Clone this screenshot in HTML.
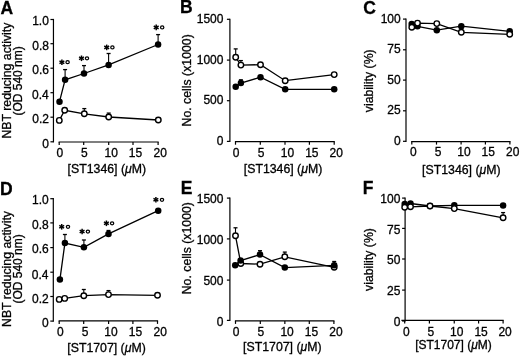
<!DOCTYPE html>
<html><head><meta charset="utf-8"><style>
html,body{margin:0;padding:0;background:#fff;}
body{width:520px;height:356px;overflow:hidden;}
svg{display:block;font-family:"Liberation Sans", sans-serif;filter:blur(0.3px);}
text{fill:#000;stroke:#000;stroke-width:0.3px;}
</style></head><body>
<svg width="520" height="356" viewBox="0 0 520 356">
<rect width="520" height="356" fill="#fff"/>
<text x="0.56" y="13.53" font-size="17.5" font-weight="bold">A</text>
<text x="180.12" y="13.43" font-size="17.5" font-weight="bold">B</text>
<text x="363.20" y="13.61" font-size="17.5" font-weight="bold">C</text>
<text x="-0.08" y="194.53" font-size="17.5" font-weight="bold">D</text>
<text x="180.72" y="194.23" font-size="17.5" font-weight="bold">E</text>
<text x="362.72" y="194.23" font-size="17.5" font-weight="bold">F</text>
<line x1="53.45" y1="18.90" x2="53.45" y2="142.40" stroke="#000" stroke-width="1.2" stroke-linecap="butt"/>
<line x1="50.45" y1="141.80" x2="53.45" y2="141.80" stroke="#000" stroke-width="1.2" stroke-linecap="butt"/>
<text x="42.19" y="147.83" font-size="12.0">0</text>
<line x1="50.45" y1="117.20" x2="53.45" y2="117.20" stroke="#000" stroke-width="1.2" stroke-linecap="butt"/>
<text x="32.32" y="123.33" font-size="12.0">0.2</text>
<line x1="50.45" y1="92.70" x2="53.45" y2="92.70" stroke="#000" stroke-width="1.2" stroke-linecap="butt"/>
<text x="32.05" y="99.23" font-size="12.0">0.4</text>
<line x1="50.45" y1="68.20" x2="53.45" y2="68.20" stroke="#000" stroke-width="1.2" stroke-linecap="butt"/>
<text x="32.23" y="74.33" font-size="12.0">0.6</text>
<line x1="50.45" y1="43.70" x2="53.45" y2="43.70" stroke="#000" stroke-width="1.2" stroke-linecap="butt"/>
<text x="32.23" y="49.83" font-size="12.0">0.8</text>
<line x1="50.45" y1="19.50" x2="53.45" y2="19.50" stroke="#000" stroke-width="1.2" stroke-linecap="butt"/>
<text x="32.17" y="25.02" font-size="12.0">1.0</text>
<line x1="58.60" y1="142.00" x2="158.70" y2="142.00" stroke="#000" stroke-width="1.2" stroke-linecap="butt"/>
<line x1="59.20" y1="142.00" x2="59.20" y2="145.00" stroke="#000" stroke-width="1.2" stroke-linecap="butt"/>
<text x="56.61" y="156.62" font-size="12.0">0</text>
<line x1="83.70" y1="142.00" x2="83.70" y2="145.00" stroke="#000" stroke-width="1.2" stroke-linecap="butt"/>
<text x="81.12" y="156.56" font-size="12.0">5</text>
<line x1="108.70" y1="142.00" x2="108.70" y2="145.00" stroke="#000" stroke-width="1.2" stroke-linecap="butt"/>
<text x="104.56" y="156.62" font-size="12.0">10</text>
<line x1="133.00" y1="142.00" x2="133.00" y2="145.00" stroke="#000" stroke-width="1.2" stroke-linecap="butt"/>
<text x="128.78" y="156.56" font-size="12.0">15</text>
<line x1="158.10" y1="142.00" x2="158.10" y2="145.00" stroke="#000" stroke-width="1.2" stroke-linecap="butt"/>
<text x="153.46" y="156.62" font-size="12.0">20</text>
<text x="67.61" y="172.53" font-size="12.3">[ST1346] (<tspan font-style="italic">μ</tspan>M)</text>
<text transform="translate(11.40,80.55) rotate(-90)" x="0" y="0" font-size="12.3" text-anchor="middle">NBT reducing activity</text>
<text transform="translate(22.20,80.90) rotate(-90)" x="0" y="0" font-size="12.0" text-anchor="middle">(OD 540 nm)</text>
<polyline points="59.30,120.40 64.70,110.30 84.30,113.80 108.70,117.00 158.30,120.00" fill="none" stroke="#000" stroke-width="1.3"/>
<line x1="84.30" y1="113.80" x2="84.30" y2="108.60" stroke="#000" stroke-width="1.1" stroke-linecap="butt"/>
<line x1="82.30" y1="108.60" x2="86.30" y2="108.60" stroke="#000" stroke-width="1.3" stroke-linecap="butt"/>
<line x1="108.70" y1="117.00" x2="108.70" y2="113.10" stroke="#000" stroke-width="1.1" stroke-linecap="butt"/>
<line x1="106.70" y1="113.10" x2="110.70" y2="113.10" stroke="#000" stroke-width="1.3" stroke-linecap="butt"/>
<circle cx="59.30" cy="120.40" r="2.75" fill="#fff" stroke="#000" stroke-width="1.4"/>
<circle cx="64.70" cy="110.30" r="2.75" fill="#fff" stroke="#000" stroke-width="1.4"/>
<circle cx="84.30" cy="113.80" r="2.75" fill="#fff" stroke="#000" stroke-width="1.4"/>
<circle cx="108.70" cy="117.00" r="2.75" fill="#fff" stroke="#000" stroke-width="1.4"/>
<circle cx="158.30" cy="120.00" r="2.75" fill="#fff" stroke="#000" stroke-width="1.4"/>
<polyline points="59.50,101.70 65.10,79.80 84.00,73.50 108.60,64.90 158.10,44.50" fill="none" stroke="#000" stroke-width="1.3"/>
<line x1="65.10" y1="79.80" x2="65.10" y2="69.60" stroke="#000" stroke-width="1.1" stroke-linecap="butt"/>
<line x1="63.10" y1="69.60" x2="67.10" y2="69.60" stroke="#000" stroke-width="1.3" stroke-linecap="butt"/>
<line x1="84.00" y1="73.50" x2="84.00" y2="65.60" stroke="#000" stroke-width="1.1" stroke-linecap="butt"/>
<line x1="82.00" y1="65.60" x2="86.00" y2="65.60" stroke="#000" stroke-width="1.3" stroke-linecap="butt"/>
<line x1="108.60" y1="64.90" x2="108.60" y2="53.50" stroke="#000" stroke-width="1.1" stroke-linecap="butt"/>
<line x1="106.60" y1="53.50" x2="110.60" y2="53.50" stroke="#000" stroke-width="1.3" stroke-linecap="butt"/>
<line x1="158.10" y1="44.50" x2="158.10" y2="34.60" stroke="#000" stroke-width="1.1" stroke-linecap="butt"/>
<line x1="156.10" y1="34.60" x2="160.10" y2="34.60" stroke="#000" stroke-width="1.3" stroke-linecap="butt"/>
<circle cx="59.50" cy="101.70" r="3.25" fill="#000"/>
<circle cx="65.10" cy="79.80" r="3.25" fill="#000"/>
<circle cx="84.00" cy="73.50" r="3.25" fill="#000"/>
<circle cx="108.60" cy="64.90" r="3.25" fill="#000"/>
<circle cx="158.10" cy="44.50" r="3.25" fill="#000"/>
<line x1="61.90" y1="59.40" x2="61.90" y2="65.00" stroke="#000" stroke-width="1.5" stroke-linecap="butt"/>
<line x1="59.48" y1="60.80" x2="64.32" y2="63.60" stroke="#000" stroke-width="1.5" stroke-linecap="butt"/>
<line x1="59.48" y1="63.60" x2="64.32" y2="60.80" stroke="#000" stroke-width="1.5" stroke-linecap="butt"/>
<ellipse cx="67.60" cy="62.20" rx="1.65" ry="1.5" fill="none" stroke="#000" stroke-width="1.25"/>
<line x1="81.50" y1="55.50" x2="81.50" y2="61.10" stroke="#000" stroke-width="1.5" stroke-linecap="butt"/>
<line x1="79.08" y1="56.90" x2="83.92" y2="59.70" stroke="#000" stroke-width="1.5" stroke-linecap="butt"/>
<line x1="79.08" y1="59.70" x2="83.92" y2="56.90" stroke="#000" stroke-width="1.5" stroke-linecap="butt"/>
<ellipse cx="87.00" cy="58.30" rx="1.65" ry="1.5" fill="none" stroke="#000" stroke-width="1.25"/>
<line x1="106.70" y1="44.60" x2="106.70" y2="50.20" stroke="#000" stroke-width="1.5" stroke-linecap="butt"/>
<line x1="104.28" y1="46.00" x2="109.12" y2="48.80" stroke="#000" stroke-width="1.5" stroke-linecap="butt"/>
<line x1="104.28" y1="48.80" x2="109.12" y2="46.00" stroke="#000" stroke-width="1.5" stroke-linecap="butt"/>
<ellipse cx="112.40" cy="47.40" rx="1.65" ry="1.5" fill="none" stroke="#000" stroke-width="1.25"/>
<line x1="156.20" y1="24.60" x2="156.20" y2="30.20" stroke="#000" stroke-width="1.5" stroke-linecap="butt"/>
<line x1="153.78" y1="26.00" x2="158.62" y2="28.80" stroke="#000" stroke-width="1.5" stroke-linecap="butt"/>
<line x1="153.78" y1="28.80" x2="158.62" y2="26.00" stroke="#000" stroke-width="1.5" stroke-linecap="butt"/>
<ellipse cx="162.20" cy="27.40" rx="1.65" ry="1.5" fill="none" stroke="#000" stroke-width="1.25"/>
<line x1="53.30" y1="198.10" x2="53.30" y2="321.70" stroke="#000" stroke-width="1.2" stroke-linecap="butt"/>
<line x1="50.30" y1="321.10" x2="53.30" y2="321.10" stroke="#000" stroke-width="1.2" stroke-linecap="butt"/>
<text x="41.99" y="327.12" font-size="12.0">0</text>
<line x1="50.30" y1="296.50" x2="53.30" y2="296.50" stroke="#000" stroke-width="1.2" stroke-linecap="butt"/>
<text x="32.12" y="303.12" font-size="12.0">0.2</text>
<line x1="50.30" y1="272.20" x2="53.30" y2="272.20" stroke="#000" stroke-width="1.2" stroke-linecap="butt"/>
<text x="31.85" y="278.62" font-size="12.0">0.4</text>
<line x1="50.30" y1="247.60" x2="53.30" y2="247.60" stroke="#000" stroke-width="1.2" stroke-linecap="butt"/>
<text x="32.03" y="253.12" font-size="12.0">0.6</text>
<line x1="50.30" y1="222.90" x2="53.30" y2="222.90" stroke="#000" stroke-width="1.2" stroke-linecap="butt"/>
<text x="32.03" y="228.93" font-size="12.0">0.8</text>
<line x1="50.30" y1="198.70" x2="53.30" y2="198.70" stroke="#000" stroke-width="1.2" stroke-linecap="butt"/>
<text x="31.97" y="204.32" font-size="12.0">1.0</text>
<line x1="58.60" y1="320.90" x2="158.10" y2="320.90" stroke="#000" stroke-width="1.2" stroke-linecap="butt"/>
<line x1="59.20" y1="320.90" x2="59.20" y2="323.90" stroke="#000" stroke-width="1.2" stroke-linecap="butt"/>
<text x="57.01" y="335.73" font-size="12.0">0</text>
<line x1="83.70" y1="320.90" x2="83.70" y2="323.90" stroke="#000" stroke-width="1.2" stroke-linecap="butt"/>
<text x="81.72" y="335.67" font-size="12.0">5</text>
<line x1="108.60" y1="320.90" x2="108.60" y2="323.90" stroke="#000" stroke-width="1.2" stroke-linecap="butt"/>
<text x="104.36" y="335.73" font-size="12.0">10</text>
<line x1="132.90" y1="320.90" x2="132.90" y2="323.90" stroke="#000" stroke-width="1.2" stroke-linecap="butt"/>
<text x="128.78" y="335.67" font-size="12.0">15</text>
<line x1="157.50" y1="320.90" x2="157.50" y2="323.90" stroke="#000" stroke-width="1.2" stroke-linecap="butt"/>
<text x="153.46" y="335.73" font-size="12.0">20</text>
<text x="67.31" y="352.33" font-size="12.3">[ST1707] (<tspan font-style="italic">μ</tspan>M)</text>
<text transform="translate(10.80,269.00) rotate(-90)" x="0" y="0" font-size="12.3" text-anchor="middle">NBT reducing activity</text>
<text transform="translate(21.90,268.90) rotate(-90)" x="0" y="0" font-size="12.0" text-anchor="middle">(OD 540 nm)</text>
<polyline points="59.20,299.40 64.70,298.40 83.80,295.70 108.50,294.60 157.50,295.30" fill="none" stroke="#000" stroke-width="1.3"/>
<line x1="83.80" y1="295.70" x2="83.80" y2="289.50" stroke="#000" stroke-width="1.1" stroke-linecap="butt"/>
<line x1="81.80" y1="289.50" x2="85.80" y2="289.50" stroke="#000" stroke-width="1.3" stroke-linecap="butt"/>
<line x1="108.50" y1="294.60" x2="108.50" y2="290.60" stroke="#000" stroke-width="1.1" stroke-linecap="butt"/>
<line x1="106.50" y1="290.60" x2="110.50" y2="290.60" stroke="#000" stroke-width="1.3" stroke-linecap="butt"/>
<circle cx="59.20" cy="299.40" r="2.75" fill="#fff" stroke="#000" stroke-width="1.4"/>
<circle cx="64.70" cy="298.40" r="2.75" fill="#fff" stroke="#000" stroke-width="1.4"/>
<circle cx="83.80" cy="295.70" r="2.75" fill="#fff" stroke="#000" stroke-width="1.4"/>
<circle cx="108.50" cy="294.60" r="2.75" fill="#fff" stroke="#000" stroke-width="1.4"/>
<circle cx="157.50" cy="295.30" r="2.75" fill="#fff" stroke="#000" stroke-width="1.4"/>
<polyline points="59.90,279.60 64.90,243.10 83.90,247.30 108.50,233.90 158.20,210.70" fill="none" stroke="#000" stroke-width="1.3"/>
<line x1="64.90" y1="243.10" x2="64.90" y2="234.50" stroke="#000" stroke-width="1.1" stroke-linecap="butt"/>
<line x1="62.90" y1="234.50" x2="66.90" y2="234.50" stroke="#000" stroke-width="1.3" stroke-linecap="butt"/>
<line x1="83.90" y1="247.30" x2="83.90" y2="240.00" stroke="#000" stroke-width="1.1" stroke-linecap="butt"/>
<line x1="81.90" y1="240.00" x2="85.90" y2="240.00" stroke="#000" stroke-width="1.3" stroke-linecap="butt"/>
<line x1="108.50" y1="233.90" x2="108.50" y2="230.50" stroke="#000" stroke-width="1.1" stroke-linecap="butt"/>
<line x1="106.50" y1="230.50" x2="110.50" y2="230.50" stroke="#000" stroke-width="1.3" stroke-linecap="butt"/>
<circle cx="59.90" cy="279.60" r="3.25" fill="#000"/>
<circle cx="64.90" cy="243.10" r="3.25" fill="#000"/>
<circle cx="83.90" cy="247.30" r="3.25" fill="#000"/>
<circle cx="108.50" cy="233.90" r="3.25" fill="#000"/>
<circle cx="158.20" cy="210.70" r="3.25" fill="#000"/>
<line x1="61.70" y1="224.00" x2="61.70" y2="229.60" stroke="#000" stroke-width="1.5" stroke-linecap="butt"/>
<line x1="59.28" y1="225.40" x2="64.12" y2="228.20" stroke="#000" stroke-width="1.5" stroke-linecap="butt"/>
<line x1="59.28" y1="228.20" x2="64.12" y2="225.40" stroke="#000" stroke-width="1.5" stroke-linecap="butt"/>
<ellipse cx="68.00" cy="226.80" rx="1.65" ry="1.5" fill="none" stroke="#000" stroke-width="1.25"/>
<line x1="82.10" y1="228.70" x2="82.10" y2="234.30" stroke="#000" stroke-width="1.5" stroke-linecap="butt"/>
<line x1="79.68" y1="230.10" x2="84.52" y2="232.90" stroke="#000" stroke-width="1.5" stroke-linecap="butt"/>
<line x1="79.68" y1="232.90" x2="84.52" y2="230.10" stroke="#000" stroke-width="1.5" stroke-linecap="butt"/>
<ellipse cx="87.90" cy="231.50" rx="1.65" ry="1.5" fill="none" stroke="#000" stroke-width="1.25"/>
<line x1="106.40" y1="220.50" x2="106.40" y2="226.10" stroke="#000" stroke-width="1.5" stroke-linecap="butt"/>
<line x1="103.98" y1="221.90" x2="108.82" y2="224.70" stroke="#000" stroke-width="1.5" stroke-linecap="butt"/>
<line x1="103.98" y1="224.70" x2="108.82" y2="221.90" stroke="#000" stroke-width="1.5" stroke-linecap="butt"/>
<ellipse cx="112.10" cy="223.30" rx="1.65" ry="1.5" fill="none" stroke="#000" stroke-width="1.25"/>
<line x1="155.90" y1="197.00" x2="155.90" y2="202.60" stroke="#000" stroke-width="1.5" stroke-linecap="butt"/>
<line x1="153.48" y1="198.40" x2="158.32" y2="201.20" stroke="#000" stroke-width="1.5" stroke-linecap="butt"/>
<line x1="153.48" y1="201.20" x2="158.32" y2="198.40" stroke="#000" stroke-width="1.5" stroke-linecap="butt"/>
<ellipse cx="162.00" cy="199.80" rx="1.65" ry="1.5" fill="none" stroke="#000" stroke-width="1.25"/>
<line x1="229.90" y1="18.70" x2="229.90" y2="142.00" stroke="#000" stroke-width="1.2" stroke-linecap="butt"/>
<line x1="226.90" y1="141.40" x2="229.90" y2="141.40" stroke="#000" stroke-width="1.2" stroke-linecap="butt"/>
<text x="216.79" y="145.18" font-size="12.0">0</text>
<line x1="226.90" y1="100.70" x2="229.90" y2="100.70" stroke="#000" stroke-width="1.2" stroke-linecap="butt"/>
<text x="203.44" y="104.48" font-size="12.0">500</text>
<line x1="226.90" y1="60.10" x2="229.90" y2="60.10" stroke="#000" stroke-width="1.2" stroke-linecap="butt"/>
<text x="196.78" y="63.88" font-size="12.0">1000</text>
<line x1="226.90" y1="19.30" x2="229.90" y2="19.30" stroke="#000" stroke-width="1.2" stroke-linecap="butt"/>
<text x="196.78" y="23.07" font-size="12.0">1500</text>
<line x1="234.90" y1="141.70" x2="334.80" y2="141.70" stroke="#000" stroke-width="1.2" stroke-linecap="butt"/>
<line x1="235.50" y1="141.70" x2="235.50" y2="144.70" stroke="#000" stroke-width="1.2" stroke-linecap="butt"/>
<text x="232.85" y="156.62" font-size="12.0">0</text>
<line x1="260.30" y1="141.70" x2="260.30" y2="144.70" stroke="#000" stroke-width="1.2" stroke-linecap="butt"/>
<text x="257.67" y="156.56" font-size="12.0">5</text>
<line x1="285.00" y1="141.70" x2="285.00" y2="144.70" stroke="#000" stroke-width="1.2" stroke-linecap="butt"/>
<text x="280.81" y="156.62" font-size="12.0">10</text>
<line x1="309.40" y1="141.70" x2="309.40" y2="144.70" stroke="#000" stroke-width="1.2" stroke-linecap="butt"/>
<text x="305.18" y="156.56" font-size="12.0">15</text>
<line x1="334.20" y1="141.70" x2="334.20" y2="144.70" stroke="#000" stroke-width="1.2" stroke-linecap="butt"/>
<text x="329.56" y="156.62" font-size="12.0">20</text>
<text x="243.81" y="172.83" font-size="12.3">[ST1346] (<tspan font-style="italic">μ</tspan>M)</text>
<text transform="translate(190.80,80.35) rotate(-90)" x="0" y="0" font-size="12.3" text-anchor="middle">No. cells (x1000)</text>
<polyline points="235.70,57.30 240.90,65.10 260.50,64.70 285.20,80.70 334.20,74.60" fill="none" stroke="#000" stroke-width="1.3"/>
<line x1="235.70" y1="57.30" x2="235.70" y2="48.90" stroke="#000" stroke-width="1.1" stroke-linecap="butt"/>
<line x1="233.70" y1="48.90" x2="237.70" y2="48.90" stroke="#000" stroke-width="1.3" stroke-linecap="butt"/>
<line x1="240.90" y1="65.10" x2="240.90" y2="60.60" stroke="#000" stroke-width="1.1" stroke-linecap="butt"/>
<line x1="238.90" y1="60.60" x2="242.90" y2="60.60" stroke="#000" stroke-width="1.3" stroke-linecap="butt"/>
<circle cx="235.70" cy="57.30" r="2.75" fill="#fff" stroke="#000" stroke-width="1.4"/>
<circle cx="240.90" cy="65.10" r="2.75" fill="#fff" stroke="#000" stroke-width="1.4"/>
<circle cx="260.50" cy="64.70" r="2.75" fill="#fff" stroke="#000" stroke-width="1.4"/>
<circle cx="285.20" cy="80.70" r="2.75" fill="#fff" stroke="#000" stroke-width="1.4"/>
<circle cx="334.20" cy="74.60" r="2.75" fill="#fff" stroke="#000" stroke-width="1.4"/>
<polyline points="235.70,86.70 240.90,83.10 260.50,77.20 285.20,89.30 334.20,89.30" fill="none" stroke="#000" stroke-width="1.3"/>
<line x1="240.90" y1="83.10" x2="240.90" y2="79.80" stroke="#000" stroke-width="1.1" stroke-linecap="butt"/>
<line x1="238.90" y1="79.80" x2="242.90" y2="79.80" stroke="#000" stroke-width="1.3" stroke-linecap="butt"/>
<circle cx="235.70" cy="86.70" r="3.25" fill="#000"/>
<circle cx="240.90" cy="83.10" r="3.25" fill="#000"/>
<circle cx="260.50" cy="77.20" r="3.25" fill="#000"/>
<circle cx="285.20" cy="89.30" r="3.25" fill="#000"/>
<circle cx="334.20" cy="89.30" r="3.25" fill="#000"/>
<line x1="229.90" y1="197.50" x2="229.90" y2="321.00" stroke="#000" stroke-width="1.2" stroke-linecap="butt"/>
<line x1="226.90" y1="320.40" x2="229.90" y2="320.40" stroke="#000" stroke-width="1.2" stroke-linecap="butt"/>
<text x="216.79" y="325.62" font-size="12.0">0</text>
<line x1="226.90" y1="280.10" x2="229.90" y2="280.10" stroke="#000" stroke-width="1.2" stroke-linecap="butt"/>
<text x="203.44" y="285.33" font-size="12.0">500</text>
<line x1="226.90" y1="238.90" x2="229.90" y2="238.90" stroke="#000" stroke-width="1.2" stroke-linecap="butt"/>
<text x="196.78" y="243.83" font-size="12.0">1000</text>
<line x1="226.90" y1="198.10" x2="229.90" y2="198.10" stroke="#000" stroke-width="1.2" stroke-linecap="butt"/>
<text x="196.78" y="202.62" font-size="12.0">1500</text>
<line x1="234.90" y1="320.90" x2="334.50" y2="320.90" stroke="#000" stroke-width="1.2" stroke-linecap="butt"/>
<line x1="235.50" y1="320.90" x2="235.50" y2="323.90" stroke="#000" stroke-width="1.2" stroke-linecap="butt"/>
<text x="232.71" y="335.73" font-size="12.0">0</text>
<line x1="260.30" y1="320.90" x2="260.30" y2="323.90" stroke="#000" stroke-width="1.2" stroke-linecap="butt"/>
<text x="257.52" y="335.67" font-size="12.0">5</text>
<line x1="284.85" y1="320.90" x2="284.85" y2="323.90" stroke="#000" stroke-width="1.2" stroke-linecap="butt"/>
<text x="280.42" y="335.73" font-size="12.0">10</text>
<line x1="309.30" y1="320.90" x2="309.30" y2="323.90" stroke="#000" stroke-width="1.2" stroke-linecap="butt"/>
<text x="304.78" y="335.67" font-size="12.0">15</text>
<line x1="333.90" y1="320.90" x2="333.90" y2="323.90" stroke="#000" stroke-width="1.2" stroke-linecap="butt"/>
<text x="329.26" y="335.73" font-size="12.0">20</text>
<text x="243.11" y="351.03" font-size="12.3">[ST1707] (<tspan font-style="italic">μ</tspan>M)</text>
<text transform="translate(190.80,248.20) rotate(-90)" x="0" y="0" font-size="12.3" text-anchor="middle">No. cells (x1000)</text>
<polyline points="235.50,235.80 240.80,263.50 260.00,264.20 284.80,256.80 334.20,267.30" fill="none" stroke="#000" stroke-width="1.3"/>
<line x1="235.50" y1="235.80" x2="235.50" y2="227.80" stroke="#000" stroke-width="1.1" stroke-linecap="butt"/>
<line x1="233.50" y1="227.80" x2="237.50" y2="227.80" stroke="#000" stroke-width="1.3" stroke-linecap="butt"/>
<line x1="284.80" y1="256.80" x2="284.80" y2="252.10" stroke="#000" stroke-width="1.1" stroke-linecap="butt"/>
<line x1="282.80" y1="252.10" x2="286.80" y2="252.10" stroke="#000" stroke-width="1.3" stroke-linecap="butt"/>
<circle cx="235.50" cy="235.80" r="2.75" fill="#fff" stroke="#000" stroke-width="1.4"/>
<circle cx="240.80" cy="263.50" r="2.75" fill="#fff" stroke="#000" stroke-width="1.4"/>
<circle cx="260.00" cy="264.20" r="2.75" fill="#fff" stroke="#000" stroke-width="1.4"/>
<circle cx="284.80" cy="256.80" r="2.75" fill="#fff" stroke="#000" stroke-width="1.4"/>
<circle cx="334.20" cy="267.30" r="2.75" fill="#fff" stroke="#000" stroke-width="1.4"/>
<polyline points="235.20,265.20 240.60,260.60 260.00,254.60 284.80,267.60 334.20,265.30" fill="none" stroke="#000" stroke-width="1.3"/>
<line x1="260.00" y1="254.60" x2="260.00" y2="250.70" stroke="#000" stroke-width="1.1" stroke-linecap="butt"/>
<line x1="258.00" y1="250.70" x2="262.00" y2="250.70" stroke="#000" stroke-width="1.3" stroke-linecap="butt"/>
<line x1="334.20" y1="265.30" x2="334.20" y2="261.50" stroke="#000" stroke-width="1.1" stroke-linecap="butt"/>
<line x1="332.20" y1="261.50" x2="336.20" y2="261.50" stroke="#000" stroke-width="1.3" stroke-linecap="butt"/>
<circle cx="235.20" cy="265.20" r="3.25" fill="#000"/>
<circle cx="240.60" cy="260.60" r="3.25" fill="#000"/>
<circle cx="260.00" cy="254.60" r="3.25" fill="#000"/>
<circle cx="284.80" cy="267.60" r="3.25" fill="#000"/>
<circle cx="334.20" cy="265.30" r="3.25" fill="#000"/>
<line x1="406.00" y1="18.50" x2="406.00" y2="141.90" stroke="#000" stroke-width="1.2" stroke-linecap="butt"/>
<line x1="403.00" y1="141.30" x2="406.00" y2="141.30" stroke="#000" stroke-width="1.2" stroke-linecap="butt"/>
<text x="393.99" y="144.93" font-size="12.0">0</text>
<line x1="403.00" y1="110.80" x2="406.00" y2="110.80" stroke="#000" stroke-width="1.2" stroke-linecap="butt"/>
<text x="387.36" y="114.42" font-size="12.0">25</text>
<line x1="403.00" y1="80.10" x2="406.00" y2="80.10" stroke="#000" stroke-width="1.2" stroke-linecap="butt"/>
<text x="387.33" y="83.72" font-size="12.0">50</text>
<line x1="403.00" y1="49.80" x2="406.00" y2="49.80" stroke="#000" stroke-width="1.2" stroke-linecap="butt"/>
<text x="387.36" y="53.36" font-size="12.0">75</text>
<line x1="403.00" y1="19.10" x2="406.00" y2="19.10" stroke="#000" stroke-width="1.2" stroke-linecap="butt"/>
<text x="380.64" y="22.73" font-size="12.0">100</text>
<line x1="411.20" y1="141.60" x2="510.50" y2="141.60" stroke="#000" stroke-width="1.2" stroke-linecap="butt"/>
<line x1="411.80" y1="141.60" x2="411.80" y2="144.60" stroke="#000" stroke-width="1.2" stroke-linecap="butt"/>
<text x="409.90" y="156.03" font-size="12.0">0</text>
<line x1="436.50" y1="141.60" x2="436.50" y2="144.60" stroke="#000" stroke-width="1.2" stroke-linecap="butt"/>
<text x="434.72" y="155.97" font-size="12.0">5</text>
<line x1="461.10" y1="141.60" x2="461.10" y2="144.60" stroke="#000" stroke-width="1.2" stroke-linecap="butt"/>
<text x="457.22" y="156.03" font-size="12.0">10</text>
<line x1="485.40" y1="141.60" x2="485.40" y2="144.60" stroke="#000" stroke-width="1.2" stroke-linecap="butt"/>
<text x="481.53" y="155.97" font-size="12.0">15</text>
<line x1="509.90" y1="141.60" x2="509.90" y2="144.60" stroke="#000" stroke-width="1.2" stroke-linecap="butt"/>
<text x="506.12" y="156.03" font-size="12.0">20</text>
<text x="422.11" y="173.63" font-size="12.3">[ST1346] (<tspan font-style="italic">μ</tspan>M)</text>
<text transform="translate(372.70,80.75) rotate(-90)" x="0" y="0" font-size="12.3" text-anchor="middle">viability (%)</text>
<polyline points="411.70,24.00 417.50,26.30 436.80,30.20 461.30,26.20 509.70,31.30" fill="none" stroke="#000" stroke-width="1.3"/>
<circle cx="411.70" cy="24.00" r="3.25" fill="#000"/>
<circle cx="417.50" cy="26.30" r="3.25" fill="#000"/>
<circle cx="436.80" cy="30.20" r="3.25" fill="#000"/>
<circle cx="461.30" cy="26.20" r="3.25" fill="#000"/>
<circle cx="509.70" cy="31.30" r="3.25" fill="#000"/>
<polyline points="411.80,27.20 417.50,23.10 436.80,23.60 461.30,32.30 509.70,34.30" fill="none" stroke="#000" stroke-width="1.3"/>
<circle cx="411.80" cy="27.20" r="2.75" fill="#fff" stroke="#000" stroke-width="1.4"/>
<circle cx="417.50" cy="23.10" r="2.75" fill="#fff" stroke="#000" stroke-width="1.4"/>
<circle cx="436.80" cy="23.60" r="2.75" fill="#fff" stroke="#000" stroke-width="1.4"/>
<circle cx="461.30" cy="32.30" r="2.75" fill="#fff" stroke="#000" stroke-width="1.4"/>
<circle cx="509.70" cy="34.30" r="2.75" fill="#fff" stroke="#000" stroke-width="1.4"/>
<line x1="405.10" y1="197.50" x2="405.10" y2="321.60" stroke="#000" stroke-width="1.2" stroke-linecap="butt"/>
<line x1="402.10" y1="321.00" x2="405.10" y2="321.00" stroke="#000" stroke-width="1.2" stroke-linecap="butt"/>
<text x="393.69" y="325.73" font-size="12.0">0</text>
<line x1="402.10" y1="290.10" x2="405.10" y2="290.10" stroke="#000" stroke-width="1.2" stroke-linecap="butt"/>
<text x="387.06" y="295.33" font-size="12.0">25</text>
<line x1="402.10" y1="259.00" x2="405.10" y2="259.00" stroke="#000" stroke-width="1.2" stroke-linecap="butt"/>
<text x="387.03" y="263.73" font-size="12.0">50</text>
<line x1="402.10" y1="228.40" x2="405.10" y2="228.40" stroke="#000" stroke-width="1.2" stroke-linecap="butt"/>
<text x="387.06" y="233.77" font-size="12.0">75</text>
<line x1="402.10" y1="198.10" x2="405.10" y2="198.10" stroke="#000" stroke-width="1.2" stroke-linecap="butt"/>
<text x="380.34" y="203.22" font-size="12.0">100</text>
<line x1="401.40" y1="320.40" x2="503.70" y2="320.40" stroke="#000" stroke-width="1.2" stroke-linecap="butt"/>
<line x1="404.70" y1="320.40" x2="404.70" y2="323.40" stroke="#000" stroke-width="1.2" stroke-linecap="butt"/>
<text x="403.00" y="335.73" font-size="12.0">0</text>
<line x1="429.40" y1="320.40" x2="429.40" y2="323.40" stroke="#000" stroke-width="1.2" stroke-linecap="butt"/>
<text x="427.52" y="335.67" font-size="12.0">5</text>
<line x1="454.25" y1="320.40" x2="454.25" y2="323.40" stroke="#000" stroke-width="1.2" stroke-linecap="butt"/>
<text x="450.01" y="335.73" font-size="12.0">10</text>
<line x1="478.60" y1="320.40" x2="478.60" y2="323.40" stroke="#000" stroke-width="1.2" stroke-linecap="butt"/>
<text x="474.43" y="335.67" font-size="12.0">15</text>
<line x1="503.10" y1="320.40" x2="503.10" y2="323.40" stroke="#000" stroke-width="1.2" stroke-linecap="butt"/>
<text x="498.42" y="335.73" font-size="12.0">20</text>
<text x="415.13" y="349.23" font-size="12.0">[ST1707] (<tspan font-style="italic">μ</tspan>M)</text>
<text transform="translate(372.70,259.50) rotate(-90)" x="0" y="0" font-size="12.3" text-anchor="middle">viability (%)</text>
<polyline points="404.70,204.00 410.50,203.50 430.00,206.00 454.30,205.30 503.10,205.40" fill="none" stroke="#000" stroke-width="1.3"/>
<circle cx="404.70" cy="204.00" r="3.25" fill="#000"/>
<circle cx="410.50" cy="203.50" r="3.25" fill="#000"/>
<circle cx="430.00" cy="206.00" r="3.25" fill="#000"/>
<circle cx="454.30" cy="205.30" r="3.25" fill="#000"/>
<circle cx="503.10" cy="205.40" r="3.25" fill="#000"/>
<polyline points="404.70,207.20 410.50,206.80 430.00,206.00 454.30,208.60 503.10,217.80" fill="none" stroke="#000" stroke-width="1.3"/>
<line x1="503.10" y1="217.80" x2="503.10" y2="212.60" stroke="#000" stroke-width="1.1" stroke-linecap="butt"/>
<line x1="501.10" y1="212.60" x2="505.10" y2="212.60" stroke="#000" stroke-width="1.3" stroke-linecap="butt"/>
<circle cx="404.70" cy="207.20" r="2.75" fill="#fff" stroke="#000" stroke-width="1.4"/>
<circle cx="410.50" cy="206.80" r="2.75" fill="#fff" stroke="#000" stroke-width="1.4"/>
<circle cx="430.00" cy="206.00" r="2.75" fill="#fff" stroke="#000" stroke-width="1.4"/>
<circle cx="454.30" cy="208.60" r="2.75" fill="#fff" stroke="#000" stroke-width="1.4"/>
<circle cx="503.10" cy="217.80" r="2.75" fill="#fff" stroke="#000" stroke-width="1.4"/>
</svg>
</body></html>
